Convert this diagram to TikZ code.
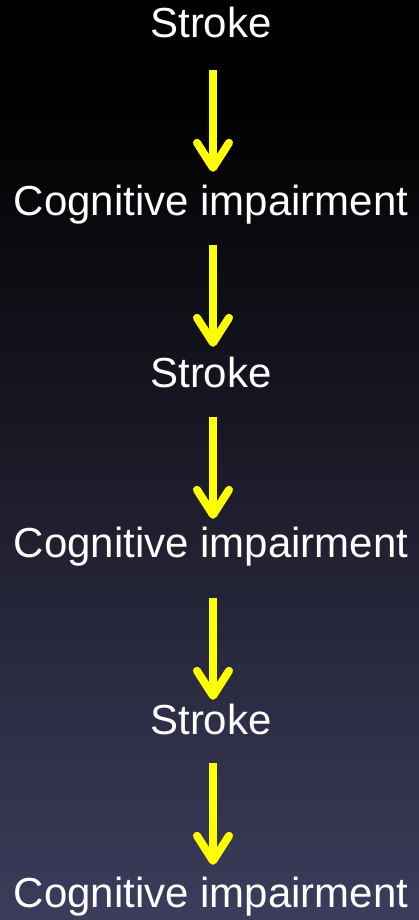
\documentclass[tikz,border=0pt]{standalone}
\usepackage{fontspec}
\setmainfont{Liberation Sans}
\usetikzlibrary{arrows.meta}
\definecolor{hintergrund}{RGB}{60,60,92}
\definecolor{pfeilgelb}{RGB}{255,255,0}

\begin{document}
\begin{tikzpicture}[x=1pt, y=-1pt,
			>={Straight Barb[length=25pt,width=32pt,round]},   %Pfeilspitzen
			begriff/.style={text=white, font=\fontsize{42}{50}\selectfont, inner sep=0pt, text height=30pt, text depth=9pt, anchor=base},
			pfeil/.style={->, draw=pfeilgelb, line width=8pt}]
			%Hintergrund
			\useasboundingbox (0,0) rectangle (419,920);
			\fill[black] (0,0) rectangle (419,101);
			\shade[top color=black, bottom color=hintergrund] (0,100) rectangle (419,920);
			% Begriffe
			\node[begriff] (s1) at (211,38) {Stroke};
			\node[begriff] (c1) at (211,215) {Cognitive impairment};
			\node[begriff] (s2) at (211,387) {Stroke};
			\node[begriff] (c2) at (211,557) {Cognitive impairment};
			\node[begriff] (s3) at (211,734) {Stroke};
			\node[begriff] (c3) at (211,907) {Cognitive impairment};
			% Pfeile zeichnen
			\foreach \a/\b/\p/\q in {s1/c1/23/13, c1/s2/21/10, s2/c2/21/8, c2/s3/32/4, s3/c3/20/12}
				\draw[pfeil, shorten <=\p pt, shorten >=\q pt] ([xshift=2pt]\a.south) -- ([xshift=2pt]\b.north);
		\end{tikzpicture}
\end{document}
